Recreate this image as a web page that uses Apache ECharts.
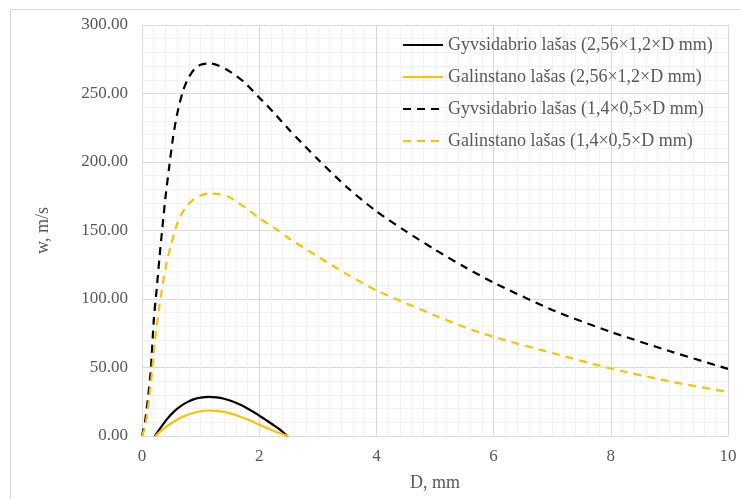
<!DOCTYPE html>
<html>
<head>
<meta charset="utf-8">
<script src="https://cdn.jsdelivr.net/npm/echarts@6/dist/echarts.min.js"></script>
<style>
  html, body { margin: 0; padding: 0; background: #fff; }
  #chart { width: 741px; height: 499px; }
</style>
</head>
<body>
<div id="chart"></div>
<script>
const names = [
  'Gyvsidabrio lašas (2,56×1,2×D mm)',
  'Galinstano lašas (2,56×1,2×D mm)',
  'Gyvsidabrio lašas (1,4×0,5×D mm)',
  'Galinstano lašas (1,4×0,5×D mm)'
]

// solid curves (2,56x1,2xD mm)
const dHgSmall = [0.22, 0.3, 0.43, 0.55, 0.66, 0.78, 0.89, 1.0, 1.14, 1.27, 1.4, 1.55, 1.68, 1.83, 1.97, 2.1, 2.25, 2.38, 2.48]
const wHgSmall = [0, 5, 12.5, 18, 21.8, 24.9, 26.9, 28.0, 28.5, 28.2, 27.2, 25.2, 22.8, 19.4, 15.8, 12.1, 7.8, 3.8, 0]
const dGaSmall = [0.23, 0.3, 0.43, 0.55, 0.66, 0.78, 0.89, 1.0, 1.14, 1.27, 1.4, 1.55, 1.68, 1.83, 1.97, 2.1, 2.25, 2.38, 2.5]
const wGaSmall = [0, 2.8, 7.2, 10.6, 13.3, 15.5, 17.0, 18.0, 18.6, 18.4, 17.6, 16.0, 14.1, 11.6, 8.8, 6.4, 3.6, 1.6, 0]

// dashed curves (1,4x0,5xD mm)
const dHgBig = [0, 0.05, 0.1, 0.15, 0.2, 0.25, 0.3, 0.35, 0.4, 0.46, 0.53, 0.6, 0.7, 0.8, 0.9, 1.0, 1.15, 1.3, 1.5, 1.75, 2.0, 2.25, 2.5, 3.0, 3.5, 4.0, 4.5, 5.0, 5.5, 6.0, 7.0, 8.0, 9.0, 10.0]
const wHgBig = [0, 10, 27, 48, 84, 107, 131, 153, 174, 195, 218, 235, 252, 262, 268, 271, 272, 270.5, 266, 258, 247, 236, 224, 202, 181.5, 164, 149.5, 136, 123.5, 112, 92, 76, 62, 49]
const dGaBig = [0, 0.05, 0.1, 0.15, 0.2, 0.25, 0.3, 0.35, 0.4, 0.45, 0.5, 0.55, 0.6, 0.66, 0.75, 0.86, 1.0, 1.14, 1.3, 1.46, 1.65, 1.85, 2.0, 2.31, 2.5, 3.0, 3.5, 4.0, 4.5, 5.0, 5.5, 6.0, 7.0, 8.0, 9.0, 10.0]
const wGaBig = [0, 6, 20, 38, 60, 80, 96, 110, 122, 132, 140, 148, 155, 161, 167, 172, 175.5, 177, 176.5, 175, 170, 164, 159, 150.5, 144.5, 131, 118, 106.3, 97, 88, 79.5, 72.3, 60.6, 49.3, 39.9, 32.1]

const xTicks = [0, 2, 4, 6, 8, 10]
const yTicks = [0, 50, 100, 150, 200, 250, 300]

const fontFamily = '"Liberation Serif", "Times New Roman", serif'
const textColor = '#595959'

function pairs(xs, ys) {
  return xs.map((x, i) => [x, ys[i]])
}

const chart = echarts.init(document.getElementById('chart'))
const option = {
  animation: false,
  textStyle: { fontFamily: fontFamily },
  graphic: [{
    type: 'rect',
    shape: { x: 10.5, y: 9.5, width: 760, height: 520 },
    style: { fill: 'none', stroke: '#d9d9d9', lineWidth: 1 },
    silent: true,
    z: -10
  }],
  legend: {
    orient: 'vertical',
    left: 402,
    top: 36,
    padding: 0,
    itemWidth: 40,
    itemHeight: 14,
    itemGap: 14,
    data: names,
    itemStyle: { opacity: 0 },
    textStyle: { fontFamily: fontFamily, fontSize: 18, color: textColor, lineHeight: 17.5 }
  },
  grid: { // plot area position
    left: 142,
    right: 13,
    top: 25,
    bottom: 63
  },
  xAxis: {
    type: 'value',
    min: xTicks[0],
    max: xTicks[xTicks.length - 1],
    interval: 2,
    name: 'D, mm',
    nameLocation: 'middle',
    nameGap: 38,
    nameTextStyle: { fontFamily: fontFamily, fontSize: 18, color: textColor },
    axisLine: { show: true, lineStyle: { color: '#d9d9d9', width: 1 } },
    axisTick: { show: false },
    axisLabel: { margin: 12, fontFamily: fontFamily, fontSize: 17, color: textColor },
    splitLine: { show: true, lineStyle: { color: '#d9d9d9', width: 1 } },
    minorTick: { show: false, splitNumber: 10 },
    minorSplitLine: { show: true, lineStyle: { color: '#f2f2f2', width: 1 } }
  },
  yAxis: {
    type: 'value',
    min: yTicks[0],
    max: yTicks[yTicks.length - 1],
    interval: 50,
    name: 'w, m/s',
    nameLocation: 'middle',
    nameGap: 90,
    nameTextStyle: { fontFamily: fontFamily, fontSize: 18, color: textColor },
    axisLine: { show: true, lineStyle: { color: '#d9d9d9', width: 1 } },
    axisTick: { show: false },
    axisLabel: {
      margin: 14,
      fontFamily: fontFamily,
      fontSize: 17,
      color: textColor,
      formatter: v => v.toFixed(2)
    },
    splitLine: { show: true, lineStyle: { color: '#d9d9d9', width: 1 } },
    minorTick: { show: false, splitNumber: 5 },
    minorSplitLine: { show: true, lineStyle: { color: '#f2f2f2', width: 1 } }
  },
  series: [
    {
      name: names[0],
      type: 'line',
      smooth: 0.3,
      symbol: 'none',
      data: pairs(dHgSmall, wHgSmall),
      lineStyle: { color: '#000000', width: 2.2 },
      itemStyle: { color: '#000000' }
    },
    {
      name: names[1],
      type: 'line',
      smooth: 0.3,
      symbol: 'none',
      data: pairs(dGaSmall, wGaSmall),
      lineStyle: { color: '#FFC000', width: 2.2 },
      itemStyle: { color: '#FFC000' }
    },
    {
      name: names[2],
      type: 'line',
      smooth: 0.25,
      symbol: 'none',
      data: pairs(dHgBig, wHgBig),
      lineStyle: { color: '#000000', width: 2.2, type: [8, 6] },
      itemStyle: { color: '#000000' }
    },
    {
      name: names[3],
      type: 'line',
      smooth: 0.25,
      symbol: 'none',
      data: pairs(dGaBig, wGaBig),
      lineStyle: { color: '#FFC000', width: 2.2, type: [8, 6] },
      itemStyle: { color: '#FFC000' }
    }
  ]
}
chart.setOption(option)
</script>
</body>
</html>
